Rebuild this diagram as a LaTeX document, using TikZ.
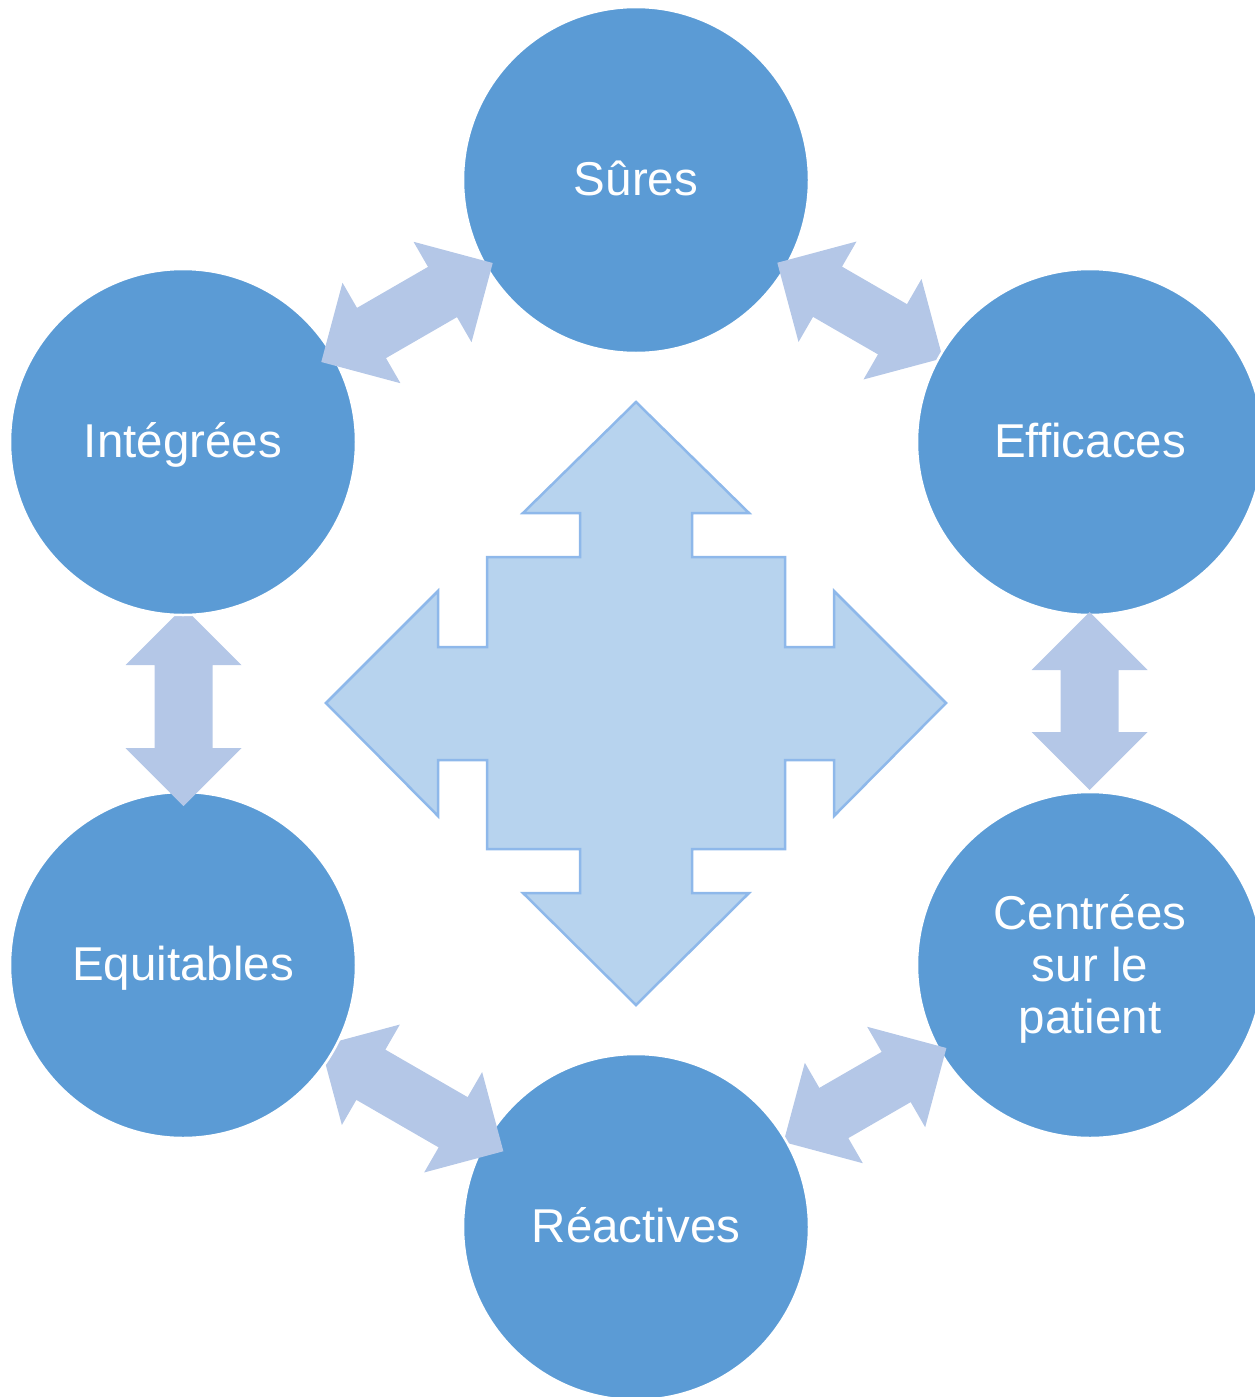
\documentclass[tikz,border=0pt]{standalone}
\usepackage{fontspec}
\setmainfont{Liberation Sans}
\definecolor{circ}{HTML}{5B9BD5}
\definecolor{arr}{HTML}{B4C7E7}
\definecolor{crossfill}{HTML}{B7D3EE}
\definecolor{crossline}{HTML}{8EB8EA}
% #1 cx, #2 cy, #3 angle, #4 half length
\newcommand\dblarrow[4]{%
  \begin{scope}[shift={(#1,#2)}, rotate=#3]
    \fill[arr] ({-#4},0) -- ({-#4+58},-58) -- ({-#4+58},-29) -- ({#4-58},-29)
      -- ({#4-58},-58) -- ({#4},0) -- ({#4-58},58) -- ({#4-58},29)
      -- ({-#4+58},29) -- ({-#4+58},58) -- cycle;
  \end{scope}}
\begin{document}
\begin{tikzpicture}[x=1pt,y=-1pt,
  bubble/.style={circle, minimum size=346pt, inner sep=0pt, fill=circ, draw=white,
    line width=2.5pt, text=white, font=\fontsize{47.5}{52}\selectfont,
    text height=31pt, text depth=0pt},
  lbl/.style={text=white, font=\fontsize{47.5}{52}\selectfont, inner sep=0pt, anchor=base},
  cross/.style={fill=crossfill, draw=crossline, line width=2.5pt, line join=miter}]
\useasboundingbox (0,0) rectangle (1255,1397);
\clip (0,0) rectangle (1255,1397);

\node[bubble] (sures) at (636,180) {Sûres};
\dblarrow{860}{310.5}{-30}{95.5}
\node[bubble] (eff) at (1090,442) {Efficaces};
\dblarrow{1089.5}{701}{90}{89}
\node[bubble] (cen) at (1090,965) {};
\node[lbl] (cen1) at (1090,929) {Centrées};
\node[lbl] (cen2) at (1090,981) {sur le};
\node[lbl] (cen3) at (1090,1033) {patient};
\dblarrow{865}{1095}{30}{94}
\node[bubble] (rea) at (636,1227) {Réactives};
\dblarrow{412}{1098.5}{-30}{105.5}
\node[bubble] (equ) at (183,965) {Equitables};
\dblarrow{183.5}{706.5}{90}{99.5}
\node[bubble] (int) at (183,442) {Intégrées};
\dblarrow{407}{312.5}{30}{99}

\draw[cross] (636,402) -- (749,513) -- (692,513) -- (692,557) -- (785,557)
  -- (785,647) -- (834,647) -- (834,591) -- (946,703) -- (834,816) -- (834,760)
  -- (785,760) -- (785,849) -- (692,849) -- (692,893) -- (749,893) -- (636,1005)
  -- (523,893) -- (580,893) -- (580,849) -- (487,849) -- (487,760) -- (438,760)
  -- (438,816) -- (326,703) -- (438,591) -- (438,647) -- (487,647) -- (487,557)
  -- (580,557) -- (580,513) -- (523,513) -- cycle;
\end{tikzpicture}
\end{document}
